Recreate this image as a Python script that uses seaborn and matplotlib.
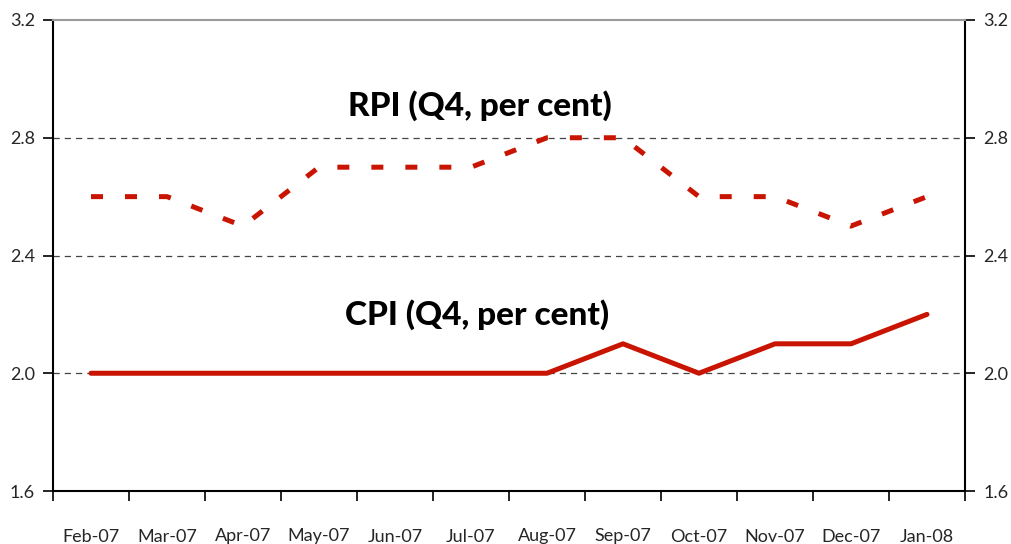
import matplotlib
matplotlib.use("Agg")
import matplotlib.pyplot as plt
import seaborn as sns
import pandas as pd
import numpy as np
from matplotlib.ticker import FixedLocator

months = ["Feb-07", "Mar-07", "Apr-07", "May-07", "Jun-07", "Jul-07",
          "Aug-07", "Sep-07", "Oct-07", "Nov-07", "Dec-07", "Jan-08"]
rpi = [2.6, 2.6, 2.5, 2.7, 2.7, 2.7, 2.8, 2.8, 2.6, 2.6, 2.5, 2.6]
cpi = [2.0, 2.0, 2.0, 2.0, 2.0, 2.0, 2.0, 2.1, 2.0, 2.1, 2.1, 2.2]
yticks = [1.6, 2.0, 2.4, 2.8, 3.2]

sns.set_theme(style="white")
plt.rcParams['font.family'] = ['Lato', 'DejaVu Sans']

df = pd.DataFrame({"pos": np.arange(len(months)), "month": months, "RPI": rpi, "CPI": cpi})

fig = plt.figure(figsize=(10.11, 5.44), dpi=100)
ax = fig.add_axes([53/1011, 1 - 491/544, (965-53)/1011, (491-20)/544])

red = "#C81400"
sns.lineplot(data=df, x="pos", y="RPI", ax=ax, color=red, linewidth=3.6)
ax.lines[-1].set_dashes([2.4, 4.4])
ax.lines[-1].set_dash_capstyle("butt")
sns.lineplot(data=df, x="pos", y="CPI", ax=ax, color=red, linewidth=3.6)

ax.set_xlim(-0.5, len(months) - 0.5)
ax.set_ylim(1.6, 3.2)
ax.set_xlabel("")
ax.set_ylabel("")

ax.xaxis.set_major_locator(FixedLocator(np.arange(len(months))))
ax.set_xticklabels(months, fontsize=13)
ax.xaxis.set_minor_locator(FixedLocator(np.arange(-0.5, len(months), 1.0)))
ax.tick_params(axis="x", which="major", length=0, pad=27)
ax.tick_params(axis="x", which="minor", length=7, width=1.2, color="black", direction="out", bottom=True)

ax.set_yticks(yticks)
ax.set_yticklabels([f"{v:.1f}" for v in yticks], fontsize=13)
ax.tick_params(axis="y", which="major", length=7, width=1.2, color="black", direction="out",
               left=True, right=True, labelleft=True, labelright=True, pad=6)

for v in [2.0, 2.4, 2.8]:
    ax.axhline(v, color="#444444", linestyle=(0, (5, 4)), linewidth=0.9, zorder=0)

for s in ["left", "right", "bottom"]:
    ax.spines[s].set_color("black")
    ax.spines[s].set_linewidth(1.5)
ax.spines["top"].set_color("#999999")
ax.spines["top"].set_linewidth(1.5)

ax.text(5.12, 2.911, "RPI (Q4, per cent)", ha="center", va="center", fontsize=24,
        fontweight="black", color="black")
ax.text(5.08, 2.198, "CPI (Q4, per cent)", ha="center", va="center", fontsize=24,
        fontweight="black", color="black")

fig.savefig("out.png", dpi=100, facecolor="white")
